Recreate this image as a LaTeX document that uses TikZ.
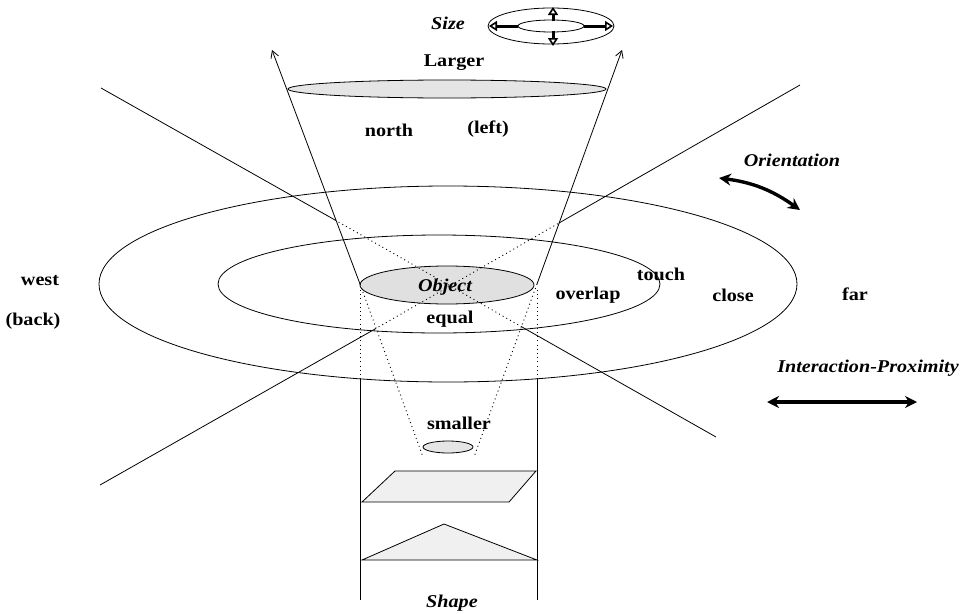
\documentclass[tikz,border=0pt]{standalone}
\usepackage{fontspec}
\setmainfont{Liberation Serif}[FakeStretch=1.12]
\usetikzlibrary{arrows.meta,shapes.geometric}
\begin{document}
\begin{tikzpicture}[x=1pt,y=-1pt,
  thinline/.style={line width=0.8pt,black},
  dotline/.style={line width=0.9pt,dash pattern=on 1pt off 3.2pt},
  lbl/.style={font=\fontsize{18}{20}\selectfont\bfseries,inner sep=0pt},
  ilbl/.style={font=\fontsize{18}{20}\selectfont\bfseries\itshape,inner sep=0pt},
  sizearrow/.style={line width=3pt,-{Triangle[open,length=8pt,width=10pt,line width=1.6pt]}},
  bigarrow/.style={line width=3.4pt,{Stealth[length=12pt,width=12pt]}-{Stealth[length=12pt,width=12pt]}},
  conearrow/.style={thinline,-{Straight Barb[length=7pt,width=8pt,line width=0.8pt]}}
]
\useasboundingbox (0,0) rectangle (979,613);

% ellipses of proximity
\draw[thinline] (448,284) ellipse [x radius=349, y radius=98];
\draw[thinline] (439,284) ellipse [x radius=221, y radius=49];

% object
\draw[thinline,fill=black!12] (447,285) ellipse [x radius=87, y radius=19];
\node[ilbl] (obj) at (445,287) {Object};

% larger ellipse
\draw[thinline,fill=black!10] (447,89) ellipse [x radius=159, y radius=9];

% cone
\coordinate (cl) at (360,284);
\coordinate (cr) at (537,284);
\coordinate (clt) at (272,50);
\coordinate (crt) at (622,50);
\draw[conearrow] (cl) -- (clt);
\draw[conearrow] (cr) -- (crt);

% diagonal line A
\coordinate (a1) at (101,88);
\coordinate (a2) at (335,220);
\coordinate (a3) at (522,327);
\coordinate (a4) at (716,437);
\draw[thinline] (a1) -- (a2);
\draw[dotline] (a2) -- (a3);
\draw[thinline] (a3) -- (a4);

% diagonal line B
\coordinate (b1) at (100,485);
\coordinate (b2) at (375,329);
\coordinate (b3) at (559,223);
\coordinate (b4) at (800,85);
\draw[thinline] (b1) -- (b2);
\draw[dotline] (b2) -- (b3);
\draw[thinline] (b3) -- (b4);

% shape column
\coordinate (vl1) at (360,290);
\coordinate (vl2) at (360,379);
\coordinate (vl3) at (360,600);
\coordinate (vr1) at (537,290);
\coordinate (vr2) at (537,379);
\coordinate (vr3) at (537,600);
\draw[dotline] (vl1) -- (vl2);
\draw[thinline] (vl2) -- (vl3);
\draw[dotline] (vr1) -- (vr2);
\draw[thinline] (vr2) -- (vr3);

% smaller cone
\coordinate (sl) at (423,457);
\coordinate (sr) at (474,457);
\draw[dotline] (cl) -- (sl);
\draw[dotline] (cr) -- (sr);
\draw[thinline,fill=black!10] (448,447) ellipse [x radius=25, y radius=6];

% parallelogram and triangle
\draw[thinline,fill=black!6] (362,502) -- (395,471) -- (536,471) -- (509,502) -- cycle;
\draw[thinline,fill=black!6] (362,560) -- (444,524) -- (537,560) -- cycle;

% size icon
\draw[thinline] (551,26) ellipse [x radius=63, y radius=18];
\draw[thinline] (551,26) ellipse [x radius=33, y radius=6];
\coordinate (s0u) at (553,21);
\coordinate (s1u) at (553,7);
\coordinate (s0d) at (553,31);
\coordinate (s1d) at (553,46);
\coordinate (s0l) at (518,26);
\coordinate (s1l) at (489,26);
\coordinate (s0r) at (584,26);
\coordinate (s1r) at (613,26);
\draw[sizearrow] (s0u) -- (s1u);
\draw[sizearrow] (s0d) -- (s1d);
\draw[sizearrow] (s0l) -- (s1l);
\draw[sizearrow] (s0r) -- (s1r);

% orientation arrow
\coordinate (o1) at (719,178);
\coordinate (o2) at (800,210);
\draw[bigarrow] (o1) to[bend left=14] (o2);

% proximity arrow
\coordinate (p1) at (767,402);
\coordinate (p2) at (917,402);
\draw[bigarrow] (p1) -- (p2);

% labels
\node[ilbl] (size) at (448,23) {Size};
\node[lbl] (larger) at (454,63) {Larger};
\node[lbl] (north) at (389,130) {north};
\node[lbl] (left) at (488,129) {(left)};
\node[ilbl] (orient) at (792,160) {Orientation};
\node[lbl] (west) at (40,281) {west};
\node[lbl] (back) at (33,321) {(back)};
\node[lbl] (equal) at (450,319) {equal};
\node[lbl] (overlap) at (588,295) {overlap};
\node[lbl] (touch) at (661,274) {touch};
\node[lbl] (close) at (733,295) {close};
\node[lbl] (far) at (855,294) {far};
\node[ilbl] (inter) at (868,368) {Interaction-Proximity};
\node[lbl] (smaller) at (459,423) {smaller};
\node[ilbl] (shape) at (452,603) {Shape};
\end{tikzpicture}
\end{document}
